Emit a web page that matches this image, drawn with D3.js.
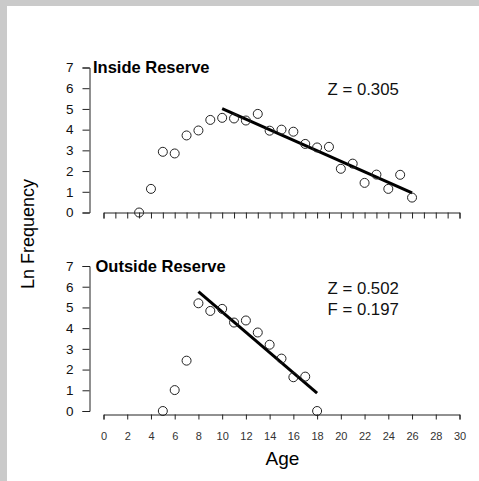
<!DOCTYPE html>
<html><head><meta charset="utf-8">
<script src="https://cdn.jsdelivr.net/npm/d3@7"></script>
<style>
html,body{margin:0;padding:0;background:#fff;}
svg{display:block;font-family:"Liberation Sans",Arial,sans-serif;}
</style></head>
<body>
<script>
// Data
const insideAge  = [3,4,5,6,7,8,9,10,11,12,13,14,15,16,17,18,19,20,21,22,23,24,25,26];
const insideLnF  = [0.0,1.14,2.93,2.85,3.72,3.96,4.47,4.57,4.54,4.44,4.76,3.95,4.0,3.9,3.31,3.14,3.17,2.11,2.36,1.43,1.83,1.14,1.82,0.72];
const insideFitAge = [10,26];
const insideFitLnF = [5.02,0.95];
const outsideAge = [5,6,7,8,9,10,11,12,13,14,15,16,17,18];
const outsideLnF = [0.0,1.01,2.43,5.2,4.83,4.93,4.27,4.37,3.79,3.2,2.53,1.63,1.66,0.0];
const outsideFitAge = [8,18];
const outsideFitLnF = [5.76,0.86];
const yTicks = [0,1,2,3,4,5,6,7];
const xTicksMinor = d3.range(0,31,1);
const xTicksMajor = d3.range(0,31,2);
const panelTitles = ["Inside Reserve","Outside Reserve"];
const statsInside = ["Z = 0.305"];
const statsOutside = ["Z = 0.502","F = 0.197"];

const W=479,H=481;
const svg=d3.select("body").append("svg").attr("width",W).attr("height",H);
svg.append("rect").attr("width",W).attr("height",H).attr("fill","#cacaca");
svg.append("rect").attr("x",7).attr("y",6).attr("width",W-7).attr("height",H-6).attr("fill","#fff");

const x=d3.scaleLinear().domain([0,30]).range([103.5,459.5]);
const panels=[
  {y:d3.scaleLinear().domain([0,7]).range([212.5,67.5]), axisY:212.5, ages:insideAge, vals:insideLnF, fa:insideFitAge, fv:insideFitLnF, title:panelTitles[0], titleX:93, titleY:72.5, stats:statsInside, statY:94.5, inside:true},
  {y:d3.scaleLinear().domain([0,7]).range([411,266]), axisY:414.5, ages:outsideAge, vals:outsideLnF, fa:outsideFitAge, fv:outsideFitLnF, title:panelTitles[1], titleX:95.5, titleY:272, stats:statsOutside, statY:293.5, inside:false}
];

panels.forEach(p=>{
  const g=svg.append("g");
  // y axis
  const ya=g.append("g").attr("transform","translate(89.5,0)")
    .call(d3.axisLeft(p.y).tickValues(yTicks).tickSize(7).tickSizeOuter(7).tickPadding(9).tickFormat(d3.format("d")));
  ya.selectAll("path,line").attr("stroke","#222").attr("stroke-width",1);
  ya.selectAll("text").attr("font-size","13.5px").attr("fill","#111").attr("font-family","Liberation Sans, Arial, sans-serif");
  // x axis
  const xa=g.append("g").attr("transform",`translate(0,${p.axisY})`);
  if(p.inside){
    xa.call(d3.axisBottom(x).tickValues(xTicksMinor).tickSize(6).tickSizeOuter(6).tickFormat(""));
  } else {
    xa.call(d3.axisBottom(x).tickValues(xTicksMajor).tickSize(5).tickSizeOuter(5).tickPadding(13).tickFormat(d3.format("d")));
    xa.selectAll("text").attr("font-size","11px").attr("fill","#333").attr("font-family","Liberation Sans, Arial, sans-serif");
  }
  xa.selectAll("path,line").attr("stroke","#222").attr("stroke-width",1);
  // fit line
  const fit=p.fa.map((a,i)=>[a,p.fv[i]]);
  g.append("path").datum(fit)
    .attr("d",d3.line().x(d=>x(d[0])).y(d=>p.y(d[1])))
    .attr("stroke","#000").attr("stroke-width",3).attr("fill","none");
  // points
  g.selectAll("circle.pt").data(p.ages.map((a,i)=>[a,p.vals[i]])).join("circle")
    .attr("class","pt").attr("cx",d=>x(d[0])).attr("cy",d=>p.y(d[1])).attr("r",4.5)
    .attr("fill","none").attr("stroke","#222").attr("stroke-width",1);
  // title
  g.append("text").attr("x",p.titleX).attr("y",p.titleY).attr("font-size","16.5px").attr("font-weight","bold").attr("fill","#000").text(p.title);
  // stats
  p.stats.forEach((s,i)=>{
    g.append("text").attr("x",327.5).attr("y",p.statY+i*21).attr("font-size","16.8px").attr("fill","#111").text(s);
  });
});

svg.append("text").attr("transform","translate(34,234) rotate(-90)").attr("text-anchor","middle")
  .attr("font-size","18px").attr("fill","#000").text("Ln Frequency");
svg.append("text").attr("x",282.5).attr("y",465).attr("text-anchor","middle")
  .attr("font-size","19px").attr("fill","#000").text("Age");
</script>
</body></html>
